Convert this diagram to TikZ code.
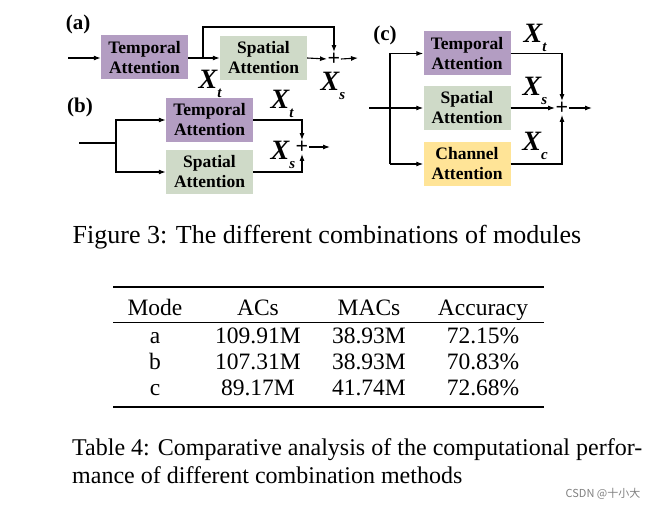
\documentclass[tikz,border=0pt]{standalone}
\usepackage{fontspec}
\setmainfont{Liberation Serif}
\newfontfamily\cjkf{Noto Sans CJK SC}
\usetikzlibrary{arrows.meta}
\definecolor{tpur}{HTML}{B39DC2}
\definecolor{sgrn}{HTML}{CFDAC8}
\definecolor{cyel}{HTML}{FFE497}
\newcommand{\xsub}[1]{X\raisebox{-0.35em}{\fontsize{15}{15}\selectfont #1}}
\begin{document}
\begin{tikzpicture}[x=1pt,y=-1pt,
 box/.style={draw=none,minimum width=87pt,minimum height=44pt,align=center,font=\fontsize{17.5}{20}\selectfont\bfseries,inner sep=0pt},
 ar/.style={-{Latex[length=7pt,width=5pt]},line width=1.1pt},
 ln/.style={line width=1.1pt},
 xl/.style={font=\fontsize{28}{30}\selectfont\bfseries\itshape,inner sep=0pt},
 lab/.style={font=\fontsize{21}{22}\selectfont\bfseries},
 plus/.style={inner sep=0.5pt,font=\fontsize{22}{22}\selectfont\bfseries}]
\useasboundingbox (0,0) rectangle (654,508);
% (a)
\node[lab] (la) at (78,24) {(a)};
\node[box,fill=tpur] (at) at (144.5,57.5) {Temporal\\Attention};
\node[box,fill=sgrn] (as) at (263.5,58) {Spatial\\Attention};
\node[plus] (ap) at (334,59) {+};
\coordinate (ain) at (68,58);
\coordinate (aout) at (358,58);
\coordinate (ab) at (203,58);
\draw[ar] (ain) -- (at.west|-ain);
\draw[ar] (at.east|-ab) -- (as.west|-ab);
\draw[ar] (ab) -- (203,27) -- (ap.center|-0,27) -- (ap.north);
\draw[ar] (as.east|-ab) -- (ap.west);
\draw[ar] (ap.east) -- (aout);
\node[xl] (axt) at (210,84) {\xsub{t}};
\node[xl] (axs) at (333,86) {\xsub{s}};
% (b)
\node[lab] (lb) at (80,107) {(b)};
\node[box,fill=tpur] (bt) at (209.5,120) {Temporal\\Attention};
\node[box,fill=sgrn] (bs) at (209.5,172) {Spatial\\Attention};
\node[plus] (bp) at (302,147) {+};
\coordinate (bin) at (79,143);
\coordinate (bb) at (116,143);
\coordinate (bout) at (330,147);
\draw[ln] (bin) -- (bb);
\draw[ar] (bb) -- (116,120) -- (bt.west);
\draw[ar] (bb) -- (116,172) -- (bs.west);
\draw[ar] (bt.east) -- (bp.center|-bt.east) -- (bp.north);
\draw[ar] (bs.east) -- (bp.center|-bs.east) -- (bp.south);
\draw[ar] (bp.east) -- (bout);
\node[xl] (bxt) at (282,104) {\xsub{t}};
\node[xl] (bxs) at (283,155) {\xsub{s}};
% (c)
\node[lab] (lc) at (385,35) {(c)};
\node[box,fill=tpur] (ct) at (467,53.5) {Temporal\\Attention};
\node[box,fill=sgrn] (cs) at (467,108) {Spatial\\Attention};
\node[box,fill=cyel] (cc) at (467,164) {Channel\\Attention};
\node[plus] (cp) at (562,108) {+};
\coordinate (cin) at (369,108);
\coordinate (cout) at (592,108);
\draw[ar] (cin) -- (cs.west);
\draw[ar] (390,53.5) -- (ct.west);
\draw[ar] (390,164) -- (cc.west);
\draw[ln] (390,53.5) -- (390,164);
\draw[ar] (ct.east) -- (cp.center|-ct.east) -- (cp.north);
\draw[ar] (cc.east) -- (cp.center|-cc.east) -- (cp.south);
\draw[ar] (cs.east) -- (cp.west);
\draw[ar] (cp.east) -- (cout);
\node[xl] (cxt) at (535,38) {\xsub{t}};
\node[xl] (cxs) at (535,91) {\xsub{s}};
\node[xl] (cxc) at (535,146) {\xsub{c}};
% caption
\node[font=\fontsize{26}{28}\selectfont] (fc) at (327,237) {Figure 3: The different combinations of modules};
% table
\draw[line width=1.6pt] (113,287) -- (544,287);
\draw[line width=1pt] (113,322) -- (544,322);
\draw[line width=1.6pt] (113,407) -- (544,407);
\tikzset{tc/.style={font=\fontsize{23.5}{26}\selectfont,anchor=base}}
\foreach \x/\t [count=\i] in {155/Mode,258/ACs,369/MACs,483/Accuracy}
  \node[tc] (h\i) at (\x,315) {\t};
\foreach \y/\a/\b/\c/\d [count=\j] in {343/a/109.91M/38.93M/72.15\%,369/b/107.31M/38.93M/70.83\%,395/c/89.17M/41.74M/72.68\%}{
  \node[tc] (r\j a) at (155,\y) {\a};
  \node[tc] (r\j b) at (258,\y) {\b};
  \node[tc] (r\j c) at (369,\y) {\c};
  \node[tc] (r\j d) at (483,\y) {\d};}
\node[font=\fontsize{24}{26}\selectfont,inner sep=0pt,anchor=base west] (tc4a) at (72,455)
 {\hbox to 570pt{Table 4: Comparative analysis of the computational perfor-}};
\node[font=\fontsize{24}{26}\selectfont,inner sep=0pt,anchor=base west] (tc4b) at (72,483)
 {mance of different combination methods};
\node[font=\fontsize{11}{12}\selectfont\cjkf,text=gray] (wm) at (603,494) {CSDN @十小大};
\end{tikzpicture}
\end{document}
